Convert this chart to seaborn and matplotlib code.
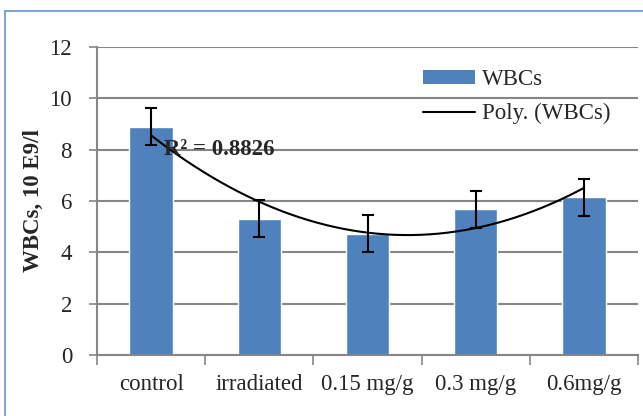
import numpy as np
import pandas as pd
import seaborn as sns
import matplotlib
matplotlib.use("Agg")
import matplotlib.pyplot as plt
from matplotlib.patches import Rectangle, Patch
from matplotlib.lines import Line2D

# WBC counts per treatment group
categories = ["control", "irradiated", "0.15 mg/g", "0.3 mg/g", "0.6mg/g"]
wbc_values = [8.9, 5.3, 4.72, 5.68, 6.15]
wbc_errors = [0.72, 0.72, 0.72, 0.72, 0.72]
y_ticks = [0, 2, 4, 6, 8, 10, 12]
r2_label = "R² = 0.8826"

sns.set_theme(style="white")
plt.rcParams["font.family"] = ["Liberation Serif", "DejaVu Serif"]

bar_color = "#4F81BD"
grid_color = "#868686"
fs = 16.5

fig = plt.figure(figsize=(6.43, 4.16), dpi=100)
ax = fig.add_axes([97 / 643, 1 - 355 / 416, (638 - 97) / 643, (355 - 47) / 416])

df = pd.DataFrame({"group": categories, "wbc": wbc_values})
sns.barplot(data=df, x="group", y="wbc", color=bar_color, saturation=1,
            width=0.4, errorbar=None, ax=ax, zorder=2)

xpos = np.arange(len(categories))
ax.errorbar(xpos, wbc_values, yerr=wbc_errors, fmt="none", ecolor="black",
            elinewidth=1.5, capsize=4.5, capthick=1.5, zorder=4)

# second-order polynomial trendline through the bar values
coef = np.polyfit(xpos, wbc_values, 2)
xs = np.linspace(xpos[0], xpos[-1], 200)
ax.plot(xs, np.polyval(coef, xs), color="black", lw=1.5, zorder=5)

ax.text(0.12, 8.0, r2_label, fontsize=fs, fontweight="bold", va="center",
        ha="left", zorder=6)

ax.set_xlim(-0.5, len(categories) - 0.5)
ax.set_ylim(0, 12)
ax.set_yticks(y_ticks)
ax.set_yticklabels([str(t) for t in y_ticks], fontsize=fs)
ax.set_xticks(xpos)
ax.set_xticklabels(categories, fontsize=fs)
ax.set_xticks(np.arange(-0.5, len(categories)), minor=True)
ax.tick_params(axis="x", which="major", length=0, pad=14)
ax.tick_params(axis="x", which="minor", length=7, width=1.2, color=grid_color,
               direction="out", bottom=True)
ax.tick_params(axis="y", length=6, width=1.2, color=grid_color, direction="out",
               left=True, pad=12)
ax.yaxis.grid(True, color=grid_color, lw=1.5, zorder=0)
ax.set_axisbelow(True)
for side in ("top", "right"):
    ax.spines[side].set_visible(False)
for side in ("left", "bottom"):
    ax.spines[side].set_color(grid_color)
    ax.spines[side].set_linewidth(1.5)

ax.set_xlabel("")
ax.set_ylabel("WBCs, 10 E9/l", fontsize=fs, fontweight="bold")
ax.yaxis.set_label_coords(-(97 - 44) / 541, 0.5)

handles = [Patch(facecolor=bar_color, edgecolor="none"),
           Line2D([0], [0], color="black", lw=1.5)]
ax.legend(handles, ["WBCs", "Poly. (WBCs)"], loc="upper left",
          bbox_to_anchor=((414 - 97) / 541, 1 - (60 - 47) / 308),
          frameon=False, fontsize=fs, handlelength=2.25, handleheight=0.5,
          handletextpad=0.3, labelspacing=0.55, borderaxespad=0)

# outer chart border
fig.patches.append(Rectangle((5 / 643, -0.1), 1.2, 1 - 11 / 416 + 0.1,
                             transform=fig.transFigure, fill=False,
                             edgecolor="#7FA3D3", lw=1.5, zorder=10))

fig.savefig("out.png", dpi=100)
